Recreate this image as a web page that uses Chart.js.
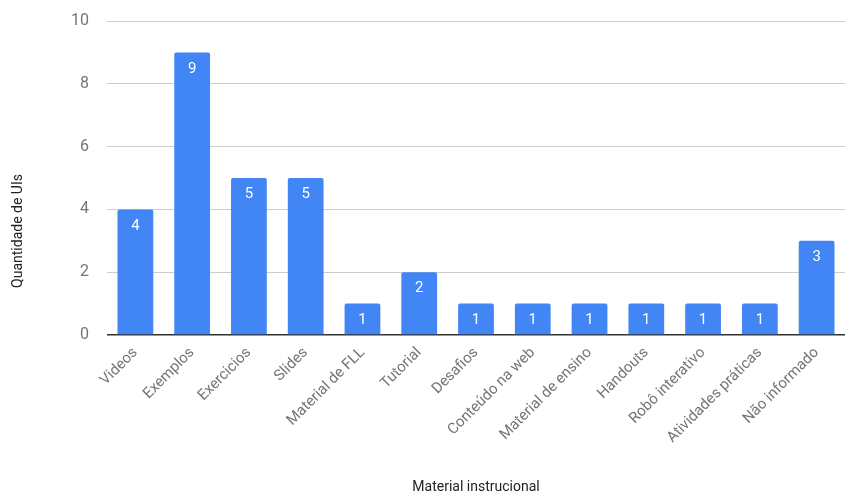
<!DOCTYPE html>
<html>
<head>
<meta charset="utf-8">
<script src="https://cdn.jsdelivr.net/npm/chart.js@4"></script>
<style>
  html, body { margin: 0; padding: 0; background: #fff; }
  #wrap { width: 845px; height: 496px; position: relative; }
</style>
</head>
<body>
<div id="wrap"><canvas id="materialChart"></canvas></div>
<script>
// data
const categories = ['Videos', 'Exemplos', 'Exercicios', 'Slides', 'Material de FLL', 'Tutorial', 'Desafios',
    'Conteúdo na web', 'Material de ensino', 'Handouts', 'Robô interativo', 'Atividades práticas', 'Não informado'];
const quantidades = [4, 9, 5, 5, 1, 2, 1, 1, 1, 1, 1, 1, 3];
const yTicks = [0, 2, 4, 6, 8, 10];
const yTitle = 'Quantidade de UIs';

Chart.defaults.font.family = "Roboto, 'Noto Sans', sans-serif";
Chart.defaults.color = '#757575';

// white value labels near the top of each bar + the rotated y title
const barLabels = {
    id: 'barLabels',
    afterDatasetsDraw(chart) {
        const ctx = chart.ctx;
        const meta = chart.getDatasetMeta(0);
        ctx.save();
        ctx.fillStyle = '#ffffff';
        ctx.font = "15px Roboto, sans-serif";
        ctx.textAlign = 'center';
        ctx.textBaseline = 'top';
        meta.data.forEach((bar, i) => {
            ctx.fillText(String(quantidades[i]), bar.x, bar.y + 9);
        });
        ctx.restore();

        // y title sits lower than the chart area centre in the original
        ctx.save();
        ctx.translate(18, 231);
        ctx.rotate(-Math.PI / 2);
        ctx.fillStyle = '#222222';
        ctx.font = "14px Roboto, sans-serif";
        ctx.textAlign = 'center';
        ctx.textBaseline = 'middle';
        ctx.fillText(yTitle, 0, 0);
        ctx.restore();
    }
};

const ctx = document.getElementById('materialChart').getContext('2d');
new Chart(ctx, {
    type: 'bar',
    data: {
        labels: categories,
        datasets: [{
            data: quantidades,
            backgroundColor: '#4285f4',
            borderRadius: 2,
            borderSkipped: 'bottom',
            barPercentage: 0.63,
            categoryPercentage: 1.0
        }]
    },
    options: {
        responsive: true,
        maintainAspectRatio: false,
        animation: false,
        layout: { padding: { top: 21, right: 0, left: 0, bottom: 0 } },
        scales: {
            y: {
                min: 0,
                max: 10,
                afterBuildTicks(axis) {
                    axis.ticks = yTicks.map(v => ({ value: v }));
                },
                afterFit(axis) {
                    axis.width = 107;
                    axis.paddingTop = 0;
                    axis.paddingBottom = 0;
                },
                grid: {
                    color: (c) => c.tick && c.tick.value === 0 ? '#333333' : '#cccccc',
                    lineWidth: (c) => c.tick && c.tick.value === 0 ? 1.5 : 1,
                    drawTicks: false
                },
                border: { display: false },
                ticks: {
                    padding: 18,
                    font: { size: 16 },
                    color: '#757575'
                }
            },
            x: {
                afterFit(axis) { axis.height = 161; },
                grid: { display: false },
                border: { display: false },
                ticks: {
                    maxRotation: 45,
                    minRotation: 45,
                    autoSkip: false,
                    padding: 1,
                    font: { size: 15 },
                    color: '#757575'
                },
                title: {
                    display: true,
                    text: 'Material instrucional',
                    font: { size: 14 },
                    color: '#222222',
                    padding: { top: 0, bottom: 0 }
                }
            }
        },
        plugins: {
            legend: { display: false },
            tooltip: { enabled: false }
        }
    },
    plugins: [barLabels]
});
</script>
</body>
</html>
